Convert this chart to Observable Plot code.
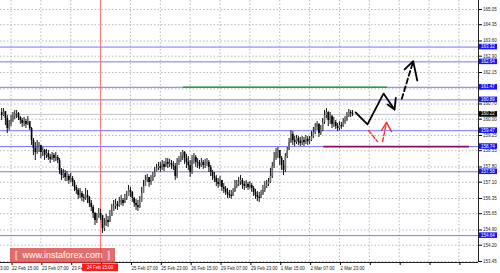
<!DOCTYPE html>
<html><head><meta charset="utf-8">
<script src="https://cdn.jsdelivr.net/npm/d3@7"></script>
<script src="https://cdn.jsdelivr.net/npm/@observablehq/plot@0.6"></script>
<style>
html,body{margin:0;padding:0;background:#fff;}
#wrap{position:relative;width:500px;height:273px;overflow:hidden;}
#wrap svg{display:block;}
#wm{position:absolute;left:10px;top:248px;width:105px;height:15px;background:rgba(214,52,52,0.72);color:#fff;font:9px "Liberation Sans",Arial,sans-serif;line-height:15px;text-align:center;white-space:pre;z-index:2;}
</style></head><body>
<div id="wrap"></div>
<script>
// ---- data (H1 bars, index 0 = first visible bar) ----
const firstOpen = 160.30;
const closes = [
160.17,160.35,160.03,159.57,159.76, 159.94,160.12,160.22,160.26,160.08,
159.94,159.80,159.89,159.76,159.89, 159.57,159.02,158.65,158.47,158.70,
158.79,158.47,158.56,158.33,158.42, 158.24,158.15,158.33,158.19,158.24,
158.10,157.64,157.41,157.50,157.32, 157.36,157.18,157.27,157.09,156.86,
156.72,156.49,156.58,156.40,156.35, 156.49,156.40,156.12,155.94,155.66,
155.34,155.43,155.66,155.57,154.97, 155.11,155.34,155.25,155.52,155.75,
155.98,156.08,155.98,156.17,156.26, 156.12,156.35,156.44,156.72,156.63,
156.35,156.12,156.03,155.94,156.17, 156.58,156.90,157.18,157.32,157.09,
157.18,157.36,157.55,157.73,157.82, 157.73,157.92,157.78,158.01,157.92,
157.96,157.87,157.82,157.36,158.01, 158.10,158.33,158.47,158.19,158.01,
157.87,157.55,158.10,158.24,158.01, 157.96,157.82,158.01,157.87,157.92,
158.01,157.78,157.55,157.36,157.27, 157.09,157.00,157.18,156.86,156.77,
156.63,156.54,156.49,156.44,156.63, 156.90,157.00,157.09,157.18,157.00,
156.90,157.00,156.86,156.95,156.81, 156.63,156.49,156.40,156.35,156.54,
156.72,156.90,157.00,157.09,157.36, 157.82,158.19,158.47,158.56,158.19,
157.87,157.64,158.28,158.56,158.93, 159.30,159.02,158.93,159.11,158.97,
158.88,159.02,158.93,159.07,158.97, 159.02,159.20,159.39,159.62,159.76,
159.34,159.48,159.85,160.17,160.31, 159.94,160.12,159.76,159.85,159.66,
159.57,159.71,159.66,159.85,159.94, 160.12,160.31,160.26,160.22];
const highs = [
160.49,160.49,160.31,160.17,159.94, 160.17,160.31,160.40,160.40,160.31,
160.12,160.03,160.08,159.99,160.12, 159.85,159.62,159.11,158.93,159.02,
158.93,158.74,158.70,158.61,158.61, 158.56,158.38,158.47,158.42,158.47,
158.33,158.19,157.73,157.69,157.64, 157.59,157.46,157.50,157.36,157.18,
156.95,156.81,156.81,156.67,156.54, 156.81,156.72,156.44,156.26,156.03,
155.71,155.66,155.89,155.85,155.57, 155.43,155.62,155.52,155.80,156.08,
156.26,156.31,156.21,156.40,156.49, 156.35,156.54,156.67,156.95,156.86,
156.67,156.40,156.31,156.26,156.44, 156.86,157.18,157.41,157.46,157.32,
157.41,157.55,157.78,157.92,158.01, 158.01,158.10,158.05,158.19,158.19,
158.15,158.10,158.05,157.96,158.19, 158.28,158.47,158.56,158.51,158.38,
158.28,158.10,158.33,158.42,158.33, 158.19,158.10,158.19,158.10,158.15,
158.19,158.10,157.87,157.64,157.55, 157.41,157.27,157.36,157.18,157.04,
156.90,156.81,156.72,156.72,156.81, 157.18,157.18,157.32,157.41,157.27,
157.13,157.18,157.09,157.13,157.04, 156.90,156.77,156.67,156.63,156.72,
156.95,157.13,157.18,157.27,157.73, 158.01,158.47,158.65,158.70,158.56,
158.28,158.10,158.42,158.70,159.11, 159.48,159.43,159.20,159.25,159.20,
159.16,159.20,159.16,159.25,159.20, 159.20,159.43,159.62,159.80,159.89,
159.80,159.71,160.03,160.40,160.49, 160.35,160.31,160.17,160.08,159.94,
159.80,159.89,159.85,160.03,160.12, 160.31,160.45,160.40,160.40];
const lows = [
159.94,160.12,159.71,159.34,159.48, 159.66,159.85,159.99,160.03,159.94,
159.76,159.62,159.66,159.57,159.71, 159.48,158.79,158.33,158.10,158.38,
158.47,158.19,158.28,158.10,158.19, 158.10,157.96,158.10,158.01,158.05,
157.96,157.46,157.18,157.27,157.13, 157.13,157.00,157.09,156.90,156.67,
156.54,156.31,156.35,156.21,156.17, 156.26,156.12,155.94,155.75,155.43,
155.11,155.20,155.43,155.34,154.74, 154.83,155.06,155.02,155.29,155.52,
155.80,155.85,155.80,155.94,156.03, 155.98,156.12,156.26,156.49,156.40,
156.17,155.94,155.80,155.75,155.89, 156.26,156.58,156.90,157.09,156.86,
156.95,157.13,157.32,157.55,157.64, 157.55,157.64,157.59,157.78,157.73,
157.78,157.69,157.64,157.18,157.27, 157.87,158.01,158.10,157.92,157.73,
157.64,157.32,157.46,157.92,157.78, 157.73,157.69,157.78,157.69,157.73,
157.82,157.55,157.36,157.18,157.09, 156.90,156.81,156.90,156.67,156.58,
156.49,156.35,156.35,156.31,156.44, 156.67,156.81,156.90,156.95,156.77,
156.72,156.81,156.72,156.77,156.63, 156.44,156.31,156.21,156.17,156.35,
156.49,156.63,156.81,156.90,157.04, 157.27,157.73,158.10,158.19,157.87,
157.64,157.41,157.55,158.19,158.56, 158.88,158.79,158.74,158.84,158.79,
158.74,158.79,158.74,158.84,158.79, 158.84,158.97,159.11,159.30,159.48,
159.16,159.25,159.43,159.76,160.03, 159.66,159.76,159.57,159.62,159.53,
159.43,159.48,159.53,159.62,159.76, 159.89,160.08,160.08,160.12];

// time axis: labels every 16 bars
const xLabelIdx = [-11, 5, 21, 37, 53, 69, 85, 101, 117, 133, 149, 165, 181];
const xLabels = ["19 Feb 23:00","22 Feb 15:00","23 Feb 07:00","23 Feb 23:00","24 Feb 15:00","25 Feb 07:00","25 Feb 23:00","26 Feb 15:00","29 Feb 07:00","29 Feb 23:00","1 Mar 15:00","2 Mar 07:00","2 Mar 23:00"];
const xFutureIdx = [197, 213, 229, 245];

// price axis
const yTicks = [165.05,164.35,163.60,162.90,162.15,161.40,160.70,160.00,159.25,158.55,157.80,157.10,156.35,155.65,154.90,154.20,153.45];

// horizontal levels
const levels = [163.32, 162.64, 161.47, 160.89, 159.47, 158.74, 157.58, 154.64];
const currentPrice = 160.22;
const greenLevel = [{price: 161.47, from: 97.4, to: 206.7}];
const purpleLevel = [{price: 158.74, from: 172.6, to: 250.7}];
const redTimeIdx = 53;
const redTimeLabel = "24 Feb 15:00";

// forecast arrows (bar index, price)
const blackPath = [{i:189.6,p:160.31},{i:196.0,p:159.76},{i:204.6,p:161.18},{i:210.5,p:160.45}];
const blackHead = [{i:206.8,p:160.68},{i:210.5,p:160.45},{i:211.2,p:160.98}];
const dashPath = [{i:214.4,p:160.94},{i:220.5,p:162.67}];
const dashHead = [{i:215.9,p:162.29},{i:220.5,p:162.67},{i:222.7,p:161.78}];
const redPath1 = [{i:196.6,p:159.48},{i:201.4,p:158.97}];
const redPath2 = [{i:204.1,p:158.97},{i:206.2,p:159.85}];
const redHead = [{i:203.5,p:159.48},{i:206.2,p:159.85},{i:208.9,p:159.43}];

// ---- build ----
const bars = closes.map((c, i) => ({i, open: i ? closes[i-1] : firstOpen, close: c, high: highs[i], low: lows[i]}));
const xDomain = [-0.64, 255.5];
const yDomain = [153.404, 165.464];
const labelOf = new Map(xLabelIdx.map((d, k) => [d, xLabels[k]]));
// axis texts hidden under a highlighted label box in the reference
const coveredY = yTicks.filter(t => levels.some(v => Math.abs(v - t) < 0.09));
const font = "Liberation Sans, Arial, sans-serif";

const chart = Plot.plot({
  width: 500, height: 273,
  marginLeft: 0, marginRight: 22, marginTop: 0, marginBottom: 11,
  style: {fontFamily: font, background: "#fff", overflow: "visible"},
  x: {domain: xDomain, axis: null},
  y: {domain: yDomain, axis: null},
  marks: [
    Plot.gridY(yTicks, {stroke: "#b8b8b8", strokeOpacity: 1, strokeDasharray: "1.5,2"}),
    Plot.gridX(xLabelIdx.concat(xFutureIdx), {stroke: "#b8b8b8", strokeOpacity: 1, strokeDasharray: "1.5,2"}),
    Plot.ruleX([redTimeIdx], {stroke: "#ff7070", strokeWidth: 1}),
    Plot.ruleY([currentPrice], {stroke: "#c4c4c4", strokeWidth: 1}),
    Plot.ruleY(levels, {stroke: "#7474ff", strokeWidth: 1}),
    Plot.ruleY(greenLevel, {y: "price", x1: "from", x2: "to", stroke: "#18a818", strokeWidth: 1.6}),
    Plot.ruleY(purpleLevel, {y: "price", x1: "from", x2: "to", stroke: "#8c0e62", strokeWidth: 1.6}),
    Plot.ruleX(bars, {x: "i", y1: "low", y2: "high", stroke: "#111", strokeWidth: 1}),
    Plot.ruleX(bars, {x: "i", y1: "open", y2: "close", stroke: d => d.close >= d.open ? "#6e6e6e" : "#000", strokeWidth: 1.7}),
    Plot.line(blackPath, {x: "i", y: "p", stroke: "#000", strokeWidth: 1.8}),
    Plot.line(blackHead, {x: "i", y: "p", stroke: "#000", strokeWidth: 1.8}),
    Plot.line(dashPath, {x: "i", y: "p", stroke: "#000", strokeWidth: 1.8, strokeDasharray: "5,3"}),
    Plot.line(dashHead, {x: "i", y: "p", stroke: "#000", strokeWidth: 1.8}),
    Plot.line(redPath1, {x: "i", y: "p", stroke: "#ff2a2a", strokeWidth: 1.4, strokeDasharray: "4,2"}),
    Plot.line(redPath2, {x: "i", y: "p", stroke: "#ff2a2a", strokeWidth: 1.4, strokeDasharray: "4,2"}),
    Plot.line(redHead, {x: "i", y: "p", stroke: "#ff2a2a", strokeWidth: 1.4}),
    Plot.ruleY([yDomain[0]], {stroke: "#222", strokeWidth: 1}),
    Plot.ruleX([xDomain[1]], {stroke: "#222", strokeWidth: 1}),
    Plot.axisY({anchor: "right", ticks: yTicks, tickFormat: d => coveredY.includes(d) ? "" : d.toFixed(2), tickSize: 3, tickPadding: 1.5, fontSize: 4.5, fill: "#222"}),
    Plot.axisX({anchor: "bottom", ticks: xLabelIdx.concat(xFutureIdx), tickFormat: d => d === redTimeIdx ? "" : (labelOf.get(d) ?? ""), tickSize: 3, tickPadding: 1, textAnchor: "start", dx: 1, fontSize: 4.5, fill: "#222"})
  ]
});

// highlighted labels on axes, placed with the chart's own scales
const sx = chart.scale("x"), sy = chart.scale("y");
const svg = d3.select(chart);
const ax = sx.apply(xDomain[1]);
const hl = svg.append("g").attr("font-family", font).attr("font-size", 4.5);
levels.forEach(v => {
  const y = sy.apply(v);
  hl.append("rect").attr("x", ax + 1).attr("y", y - 2.8).attr("width", 18).attr("height", 5.6).attr("fill", "#1414ff");
  hl.append("text").attr("x", ax + 10).attr("y", y).attr("dy", "0.35em").attr("text-anchor", "middle").attr("fill", "#fff").text(v.toFixed(2));
});
{
  const y = sy.apply(currentPrice);
  hl.append("rect").attr("x", ax + 1).attr("y", y - 2.8).attr("width", 18).attr("height", 5.6).attr("fill", "#000");
  hl.append("text").attr("x", ax + 10).attr("y", y).attr("dy", "0.35em").attr("text-anchor", "middle").attr("fill", "#fff").text(currentPrice.toFixed(2));
}
{
  const x = sx.apply(redTimeIdx), y0 = sy.apply(yDomain[0]);
  hl.append("rect").attr("x", x - 18).attr("y", y0 + 1.5).attr("width", 36).attr("height", 7.5).attr("fill", "#ff1a1a");
  hl.append("text").attr("x", x).attr("y", y0 + 5.3).attr("dy", "0.35em").attr("text-anchor", "middle").attr("fill", "#fff").text(redTimeLabel);
}

const wrap = document.getElementById("wrap");
wrap.appendChild(chart);
const wm = document.createElement("div");
wm.id = "wm";
wm.textContent = "[  www.instaforex.com  ]";
wrap.appendChild(wm);
</script>
</body></html>
